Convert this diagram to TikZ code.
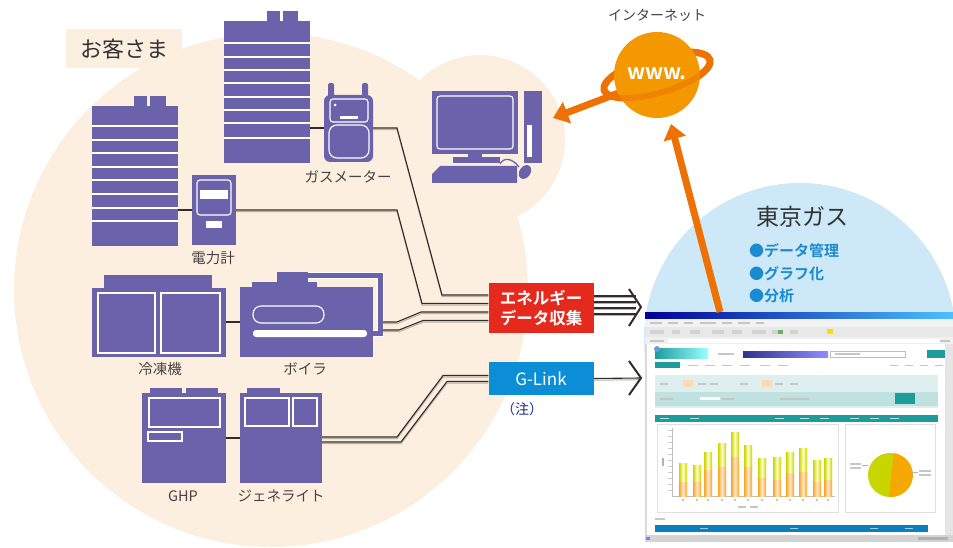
\documentclass[tikz,border=0pt]{standalone}
\usepackage{fontspec}
\newfontfamily\jp{Noto Sans CJK JP}
\newfontfamily\jpb{Noto Sans CJK JP Bold}
\usetikzlibrary{calc,arrows.meta}

\definecolor{beige}{HTML}{FDEFDF}
\definecolor{skyblue}{HTML}{CDE8F7}
\definecolor{purp}{HTML}{6B62AC}
\definecolor{wirecol}{HTML}{332B2B}
\definecolor{wireshade}{HTML}{B9B0A6}
\definecolor{globeorange}{HTML}{F39800}
\definecolor{ringorange}{HTML}{EE7203}
\definecolor{ecolred}{HTML}{E52A1D}
\definecolor{glinkblue}{HTML}{0B8ED5}
\definecolor{labelgray}{HTML}{4A4242}
\definecolor{notenavy}{HTML}{1D2C8C}
\definecolor{bulletblue}{HTML}{1A8BD0}
\definecolor{teal}{HTML}{1E9C9C}
\definecolor{paleteal}{HTML}{DDF0EF}
\definecolor{midteal}{HTML}{BFE2E0}
\definecolor{bargreen}{HTML}{C6D400}
\definecolor{barorange}{HTML}{F5A623}
\definecolor{piegreen}{HTML}{C9D500}
\definecolor{pieorange}{HTML}{F5A800}

\tikzset{
  icon/.style={fill=purp},
  hline/.style={draw=white, line width=1.3pt},
  wline/.style={draw=white, line width=1.1pt},
  link/.style={draw=wirecol, line width=1.1pt},
  wire/.style={draw=wirecol, line width=1.1pt, line join=miter,
    preaction={draw=wireshade, line width=1pt, transform canvas={yshift=-1.7pt}}},
  lbl/.style={font=\jp\fontsize{14.5}{16}\selectfont, text=labelgray, inner sep=0},
  chevron/.style={draw=wirecol, line width=2pt, line join=miter},
  bigarrow/.style={draw=ringorange, line width=7pt,
    -{Triangle[length=15pt, width=22pt]}},
  txt/.style={fill=gray!45, draw=none},
}

\begin{document}
\begin{tikzpicture}[x=1pt, y=-1pt]
\useasboundingbox (0,0) rectangle (953,548);
\fill[white] (0,0) rectangle (953,548);

% customer area
\fill[beige] (271,290) circle (257);
\fill[beige] (480,140) circle (85);
\fill[beige] (66,29) rectangle (182,68);
\node[font=\jp\fontsize{22}{24}\selectfont, text=black!80, inner sep=0] (cust) at (124,49) {お客さま};

% Tokyo Gas area and screen
\begin{scope}
  \clip (0,0) rectangle (953,548);
  \fill[skyblue] (800,339) circle (156);
  % --- browser window ---
  \fill[black!15] (645,312) rectangle (953,542);
  \shade[left color=blue!60!black, right color=blue!35!cyan!70] (645,312) rectangle (953,319);
  \fill[black!5] (645,319) rectangle (953,327);
  \foreach \xx/\ww in {650/12, 668/10, 684/9, 700/16, 722/10, 738/12, 756/8}
    \fill[txt] (\xx,322) rectangle +(\ww,1.5);
  \fill[black!9] (645,327) rectangle (953,337);
  \foreach \xx/\ww in {650/14, 672/8, 690/10, 712/12, 732/10, 752/14, 772/10, 790/8}
    \fill[gray!35] (\xx,330) rectangle +(\ww,4);
  \fill[green!50!black!60] (778,330) rectangle +(5,4);
  \fill[yellow!80!orange] (827,329) rectangle +(6,5);
  \fill[black!6] (645,337) rectangle (953,344);
  \fill[white] (668,338.5) rectangle (940,342.5);
  \fill[txt] (650,339.5) rectangle +(14,2);
  \fill[txt] (940,339.5) rectangle +(10,2);
  % page
  \fill[white] (647,344) rectangle (945,535);
  \fill[black!10] (945,344) rectangle (953,535);
  \shade[left color=teal, right color=cyan!40] (655,348) rectangle (708,358);
  \fill[cyan!50!blue!60] (657,349) circle (3);
  \fill[txt] (718,353) rectangle +(16,1.5);
  \shade[left color=blue!45!black!80, right color=blue!45] (743,351) rectangle (828,357);
  \fill[white] (830,351) rectangle (905,357);
  \draw[gray!50, line width=0.4pt] (830,351) rectangle (905,357);
  \fill[txt] (835,353) rectangle +(25,1.5);
  \fill[teal] (927,350) rectangle (945,358);
  \fill[teal] (655,362) rectangle (680,368);
  \foreach \xx in {688,705,722,740,760,778}
    \fill[txt] (\xx,364.5) rectangle +(10,1.5);
  \foreach \xx in {890,905,920,935}
    \fill[txt] (\xx,364.5) rectangle +(8,1.5);
  \fill[paleteal] (655,375) rectangle (938,408);
  \fill[midteal] (655,392) rectangle (938,406);
  \fill[orange!30] (683,380) rectangle (693,387);
  \fill[orange!30] (762,380) rectangle (772,387);
  \foreach \xx in {660,698,710,740,775,790}
    \fill[txt] (\xx,383) rectangle +(8,1.5);
  \fill[txt] (660,398) rectangle +(14,1.5);
  \fill[white] (700,397) rectangle (720,400);
  \fill[txt] (722,398) rectangle +(12,1.5);
  \fill[txt] (780,398) rectangle +(30,1.5);
  \fill[teal] (895,393) rectangle (915,404);
  \fill[teal] (655,415) rectangle (938,422);
  \foreach \xx in {660,690,775,800,820,850,870,890}
    \fill[white!70!teal] (\xx,418) rectangle +(9,1.2);
  % charts
  \draw[gray!25, line width=0.4pt] (657,424) rectangle (838,512);
  \draw[gray!25, line width=0.4pt] (845,424) rectangle (935,512);
  \draw[gray!50, line width=0.5pt] (672,428) -- (672,496) -- (835,496);
  \foreach \yy in {430,436,442,448,454,460,466,472,478,484,490}
    \draw[gray!40, line width=0.4pt] (668,\yy) -- (672,\yy);
  \fill[gray!60] (662,458) rectangle +(2,8);
  \foreach \xc/\top/\mid in {683/463/482, 697/465/482, 708/452/470, 722/443/467,
                             735/432/457, 748/445/467, 762/458/478, 777/457/480,
                             790/452/473, 803/448/472, 817/460/482, 828/458/480}{
    \shade[left color=bargreen, right color=bargreen, middle color=yellow!25]
      (\xc-4,\top) rectangle (\xc+4,\mid);
    \shade[left color=barorange, right color=barorange, middle color=orange!20]
      (\xc-4,\mid) rectangle (\xc+4,496);
    \fill[txt] (\xc-1,499) rectangle +(2,1.5);
  }
  \fill[txt] (738,506) rectangle +(8,2);
  \fill[txt] (750,506) rectangle +(8,2);
  % pie
  \fill[piegreen] (890,475) circle (22);
  \begin{scope}[y=1pt]
    \fill[pieorange] (891,-475) -- (894,-453.2) arc[start angle=82, end angle=-95, radius=22] -- cycle;
  \end{scope}
  \draw[gray!60, line width=0.5pt] (862,465) -- (868,465);
  \draw[gray!60, line width=0.5pt] (912,472) -- (918,472);
  \fill[txt] (850,463) rectangle +(11,1.5);
  \fill[txt] (850,467) rectangle +(11,1.5);
  \fill[txt] (919,470) rectangle +(12,1.5);
  \fill[txt] (919,474) rectangle +(12,1.5);
  % bottom bar and status
  \fill[txt] (655,518) rectangle +(10,1.5);
  \fill[glinkblue!90!black] (655,525) rectangle (928,532);
  \foreach \xx in {700,790,870,905}
    \fill[white!60!glinkblue] (\xx,528) rectangle +(8,1.2);
  \fill[black!17] (645,535) rectangle (953,542);
  \fill[blue!50] (646,537) rectangle +(4,3);
  \fill[gray!60] (918,537) rectangle +(30,3);
\end{scope}

% ---- buildings ----
\fill[icon] (267,11) rectangle (280,21);
\fill[icon] (283,11) rectangle (298,21);
\fill[icon] (224,21) rectangle (310,163);
\foreach \yy in {43,57,70,83,97,110,123,138}
  \draw[hline] (224,\yy) -- (310,\yy);
\coordinate (bldA) at (310,128);

\fill[icon] (134,96) rectangle (147,106);
\fill[icon] (150,96) rectangle (166,106);
\fill[icon] (92,106) rectangle (178,246);
\foreach \yy in {126,140,153,167,180,194,208,221}
  \draw[hline] (92,\yy) -- (178,\yy);
\coordinate (bldB) at (178,210);

% ---- gas meter ----
\fill[icon, rounded corners=2pt] (328,83) rectangle (334,98);
\fill[icon, rounded corners=2pt] (362,83) rectangle (368,98);
\fill[icon, rounded corners=6pt] (324,95) rectangle (373,162);
\draw[wline, rounded corners=3pt] (330,99) rectangle (368,122);
\draw[wline, rounded corners=8pt] (329,125) -- (369,125) -- (369,158) -- (329,158) -- cycle;
\fill[white] (335,105) circle (1.5);
\fill[white] (340,116) rectangle (358,119);
\coordinate (gmIn) at (324,128);
\coordinate (gmOut) at (373,128);
\node[lbl] (gmL) at (348,177) {ガスメーター};

% ---- power meter ----
\fill[icon] (192,175) rectangle (236,245);
\draw[wline, rounded corners=3pt] (197,180) rectangle (231,215);
\fill[white] (200,190) rectangle (228,199);
\fill[white] (206,221) rectangle (222,228);
\coordinate (pmIn) at (192,210);
\coordinate (pmOut) at (236,210);
\node[lbl] (pmL) at (213,258) {電力計};

% ---- computer ----
\fill[icon] (432,91) rectangle (518,154);
\draw[wline, rounded corners=3pt] (437,96) rectangle (513,149);
\fill[icon] (468,153) rectangle (482,158);
\fill[icon] (453,157) rectangle (500,163);
\fill[icon] (440,166) -- (517,166) -- (517,183) -- (432,183) -- (432,174) -- cycle;
\fill[icon] (524,91) rectangle (542,163);
\fill[white] (527,125) rectangle (532,157);
\draw[purp, line width=1.3pt] (500,164) .. controls (504,157) and (512,158) .. (519,167);
\fill[icon, rotate around={-35:(525,172)}] (525,172) ellipse [x radius=5.5, y radius=7.5];
\coordinate (pc) at (553,118);

% ---- chiller ----
\fill[icon] (104,275) rectangle (212,289);
\fill[icon] (92,288) rectangle (226,357);
\draw[wline] (98,293) rectangle (155,353);
\draw[wline] (161,293) rectangle (220,353);
\coordinate (chOut) at (226,322);
\node[lbl] (chL) at (160,369) {冷凍機};

% ---- boiler ----
\draw[white, line width=7pt, line join=miter] (306,275.5) -- (380,275.5) -- (380,333) -- (372,333);
\draw[purp, line width=5pt, line join=miter] (306,275.5) -- (380,275.5) -- (380,333) -- (371,333);
\fill[icon] (277,272) rectangle (308,283);
\fill[icon] (252,282) rectangle (317,288);
\fill[icon] (240,287) rectangle (373,357);
\draw[wline, rounded corners=8pt] (253,306) rectangle (324,323);
\fill[white, rounded corners=3pt] (253,330) rectangle (367,337);
\coordinate (boIn) at (240,322);
\coordinate (boOutA) at (383,322);
\coordinate (boOutB) at (383,330);
\node[lbl] (boL) at (305,369) {ボイラ};

% ---- GHP ----
\fill[icon] (150,388) rectangle (182,394);
\fill[icon] (186,388) rectangle (218,394);
\fill[icon] (142,393) rectangle (226,483);
\draw[wline] (149,398) rectangle (220,427);
\draw[wline] (148,432) rectangle (182,441);
\coordinate (ghpOut) at (226,438);
\node[lbl] (ghpL) at (183,496) {GHP};

% ---- genelite ----
\fill[icon] (247,388) rectangle (280,394);
\fill[icon] (240,393) rectangle (322,483);
\draw[wline] (245,398) rectangle (289,426);
\draw[wline] (293,398) rectangle (317,426);
\coordinate (glIn) at (240,438);
\coordinate (glOutA) at (322,437);
\coordinate (glOutB) at (322,442);
\node[lbl] (glL) at (281,496) {ジェネライト};

% ---- links between devices ----
\draw[link] (bldA) -- (gmIn);
\draw[link] (bldB) -- (pmIn);
\draw[link] (chOut) -- (boIn);
\draw[link] (ghpOut) -- (glIn);

% ---- collection boxes (anchors for the wires) ----
\node[minimum width=105pt, minimum height=50pt, inner sep=0] (ecol) at (541,308) {};
\node[minimum width=105pt, minimum height=33pt, inner sep=0] (glink) at (541,378.5) {};

% ---- wires ----
\draw[wire] (gmOut) -- (397,128) -- (442,295) -- (ecol.west |- 0,295);
\draw[wire] (pmOut) -- (397,210) -- (422,303.5) -- (ecol.west |- 0,303.5);
\draw[wire] (boOutA) -- (397,322) -- (421,312) -- (ecol.west |- 0,312);
\draw[wire] (boOutB) -- (399,330) -- (423,320.5) -- (ecol.west |- 0,320.5);
\draw[wire] (glOutA) -- (397,437) -- (443,375.5) -- (glink.west |- 0,375.5);
\draw[wire] (glOutB) -- (401,442) -- (447,381.5) -- (glink.west |- 0,381.5);

\coordinate (tipA) at (641,307);
\coordinate (tipB) at (641,378);
\foreach \yy in {296,302,308,314}
  \draw[wire] (ecol.east |- 0,\yy) -- (636,\yy);
\draw[wire] (glink.east) -- (tipB);
\draw[chevron] ($(tipA)+(-12,-18)$) -- (tipA) -- ($(tipA)+(-12,19)$);
\draw[chevron] ($(tipB)+(-12,-17)$) -- (tipB) -- ($(tipB)+(-12,17)$);

\node[fill=ecolred, minimum width=105pt, minimum height=50pt, inner sep=0,
      text=white, align=center, font=\jpb\fontsize{16.5}{20}\selectfont] (ecolT) at (ecol) {エネルギー\\データ収集};
\node[fill=glinkblue, minimum width=105pt, minimum height=33pt, inner sep=0,
      text=white, font=\jp\fontsize{17}{19}\selectfont] (glinkT) at (glink) {G-Link};
\node[font=\jp\fontsize{14}{16}\selectfont, text=notenavy, inner sep=0] (note) at (522,409) {（注）};

% ---- internet globe ----
\coordinate (netc) at (657,75);
\begin{scope}[shift={(netc)}, x=1pt, y=1pt, rotate=16]
  \draw[white, line width=11pt] (0,0) ellipse [x radius=55, y radius=18];
  \draw[ringorange, line width=7pt] (0,0) ellipse [x radius=55, y radius=18];
\end{scope}
\node[circle, fill=globeorange, minimum size=86pt, inner sep=0] (net) at (netc) {};
\begin{scope}[shift={(netc)}, x=1pt, y=1pt, rotate=16]
  \draw[ringorange, line width=6pt, opacity=0.55] (-55,0) arc[start angle=180, end angle=360, x radius=55, y radius=18];
\end{scope}
\node[font=\jpb\fontsize{21}{24}\selectfont, text=white, inner sep=0] (www) at (657,74) {www.};
\node[font=\jp\fontsize{14}{16}\selectfont, text=labelgray, inner sep=0] (netL) at (657,15) {インターネット};

% ---- Tokyo Gas ----
\node[font=\jp\fontsize{23}{25}\selectfont, text=black!80, inner sep=0] (tg) at (802,217) {東京ガス};
\node[font=\jpb\fontsize{15}{17}\selectfont, text=bulletblue, inner sep=0, anchor=west] (b1) at (749,251) {●データ管理};
\node[font=\jpb\fontsize{15}{17}\selectfont, text=bulletblue, inner sep=0, anchor=west] (b2) at (749,274) {●グラフ化};
\node[font=\jpb\fontsize{15}{17}\selectfont, text=bulletblue, inner sep=0, anchor=west] (b3) at (749,296) {●分析};

% ---- orange arrows ----
\coordinate (tgSrc) at (720,312);
\coordinate (netIn) at (671,124);
\draw[bigarrow] (net.205) -- (pc);
\draw[bigarrow] (tgSrc) -- (netIn);
\end{tikzpicture}
\end{document}
